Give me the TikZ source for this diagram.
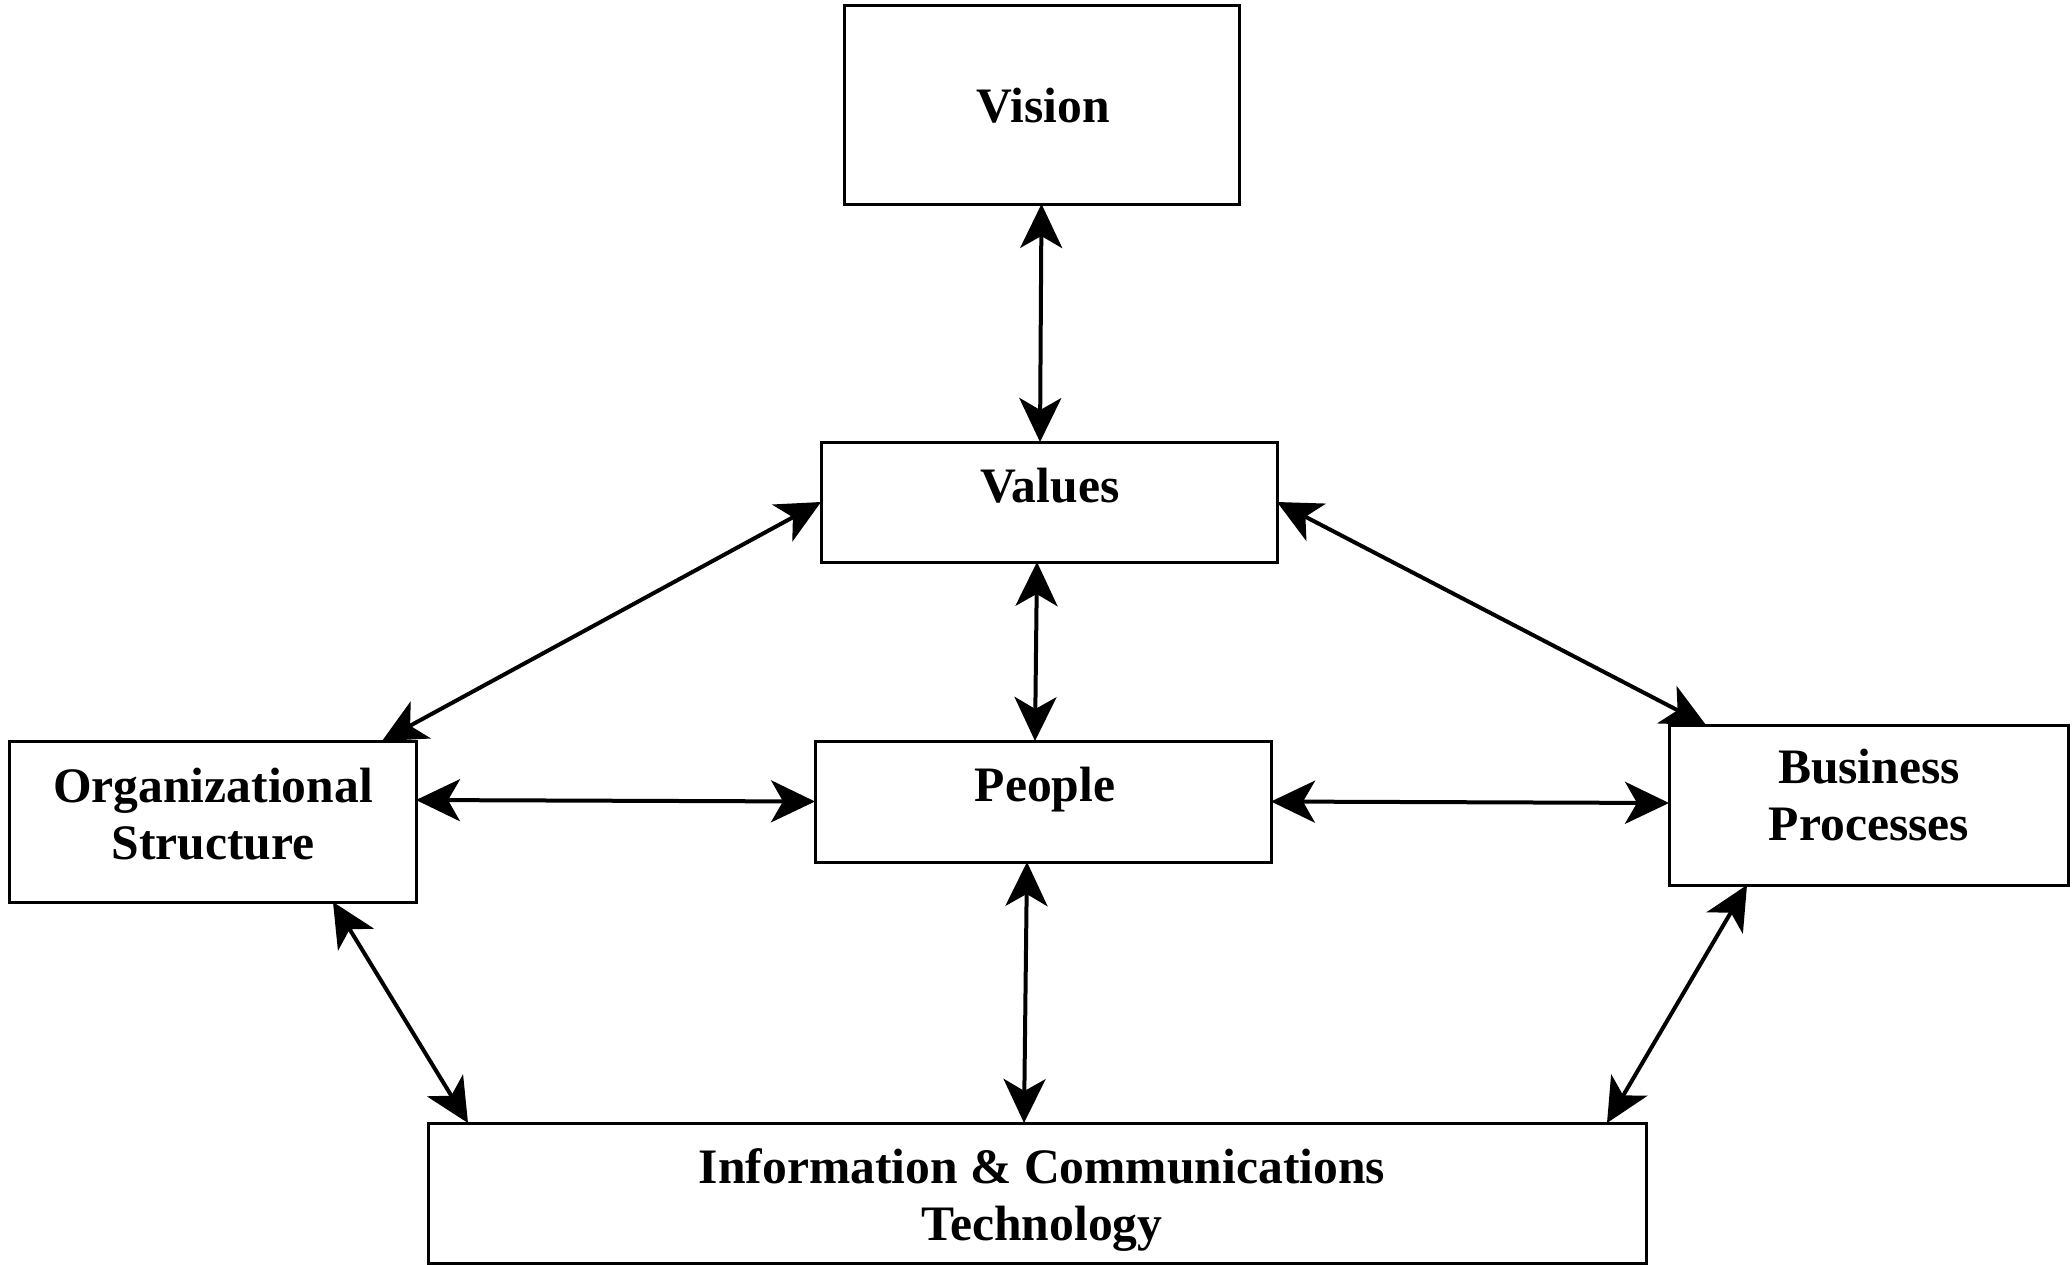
\documentclass[tikz,border=0pt]{standalone}
\usepackage{fontspec}
\setmainfont{Liberation Serif}
\usetikzlibrary{arrows.meta}
\begin{document}
\begin{tikzpicture}[x=0.5pt,y=-0.5pt,
  box/.style={draw=black, line width=1.5pt, rectangle, inner sep=0pt, outer sep=0pt},
  lbl/.style={font=\fontsize{24.8pt}{28.5pt}\selectfont\bfseries, inner sep=0pt, align=center, anchor=base},
  dbl/.style={line width=2pt, {Stealth[length=22pt,width=21pt,inset=6pt]}-{Stealth[length=22pt,width=21pt,inset=6pt]}}]
\useasboundingbox (0,0) rectangle (2072,1264);
% boxes
\node[box, minimum width=197.5pt, minimum height=99.5pt] (vision) at (1041.5,104.5) {};
\node[box, minimum width=228pt, minimum height=60pt] (values) at (1049,502) {};
\node[box, minimum width=228pt, minimum height=60.5pt] (people) at (1043,801.5) {};
\node[box, minimum width=203.5pt, minimum height=80.5pt] (org) at (212.5,821.5) {};
\node[box, minimum width=199.5pt, minimum height=80pt] (bp) at (1868.5,805) {};
\node[box, minimum width=609pt, minimum height=70pt] (ict) at (1037,1193) {};
% labels
\node[lbl] (visionL) at (1043,122) {Vision};
\node[lbl] (valuesL) at (1050,502) {Values};
\node[lbl] (peopleL) at (1045,801) {People};
\node[lbl] (orgL) at (213,859) {Organizational\\Structure};
\node[lbl] (bpL) at (1869,840) {Business\\Processes};
\node[lbl] (ictL) at (1042,1240) {Information \& Communications\\Technology};
% connectors
\draw[dbl] (vision.south) -- ([xshift=-4.5pt]values.north);
\draw[dbl] ([xshift=-6pt]values.south) -- ([xshift=-4pt]people.north);
\draw[dbl] ([xshift=-8pt]people.south) -- ([xshift=-6.5pt]ict.north);
\draw[dbl] ([yshift=10.75pt]org.east) -- (people.west);
\draw[dbl] (people.east) -- ([yshift=1pt]bp.west);
\draw[dbl] (values.west) -- ([xshift=84.75pt]org.north);
\draw[dbl] (values.east) -- ([xshift=-81.25pt]bp.north);
\draw[dbl] ([xshift=60.25pt]org.south) -- ([xshift=-284.5pt]ict.north);
\draw[dbl] ([xshift=-60.75pt]bp.south) -- ([xshift=285pt]ict.north);
\end{tikzpicture}
\end{document}
